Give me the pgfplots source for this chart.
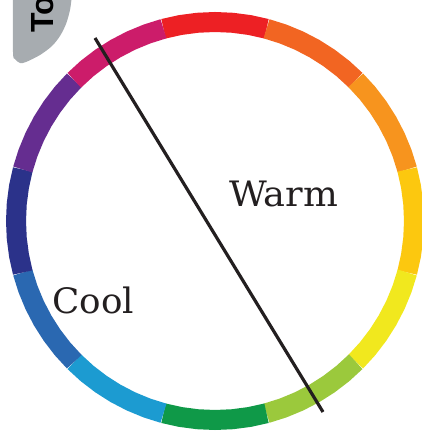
\documentclass[border=0pt]{standalone}
\usepackage{pgfplots}
\pgfplotsset{compat=1.18}
\usepackage{fontspec}
\setmainfont{DejaVu Serif}
\newfontfamily\blobfont{Liberation Sans}
\definecolor{cRed}{HTML}{ED2024}
\definecolor{cRedOrange}{HTML}{F26522}
\definecolor{cOrange}{HTML}{F7941E}
\definecolor{cYellowOrange}{HTML}{FCC80F}
\definecolor{cYellow}{HTML}{F1E81E}
\definecolor{cYellowGreen}{HTML}{9BC93C}
\definecolor{cGreen}{HTML}{0F9948}
\definecolor{cCyan}{HTML}{1C9BD1}
\definecolor{cBlue}{HTML}{2A68B1}
\definecolor{cIndigo}{HTML}{2B328A}
\definecolor{cViolet}{HTML}{652D90}
\definecolor{cMagenta}{HTML}{CC1C6A}
\definecolor{cBlob}{HTML}{A7ACB0}
\definecolor{cLine}{HTML}{231F20}
\begin{document}
\begin{tikzpicture}
\begin{axis}[
  scale only axis, width=422pt, height=431pt,
  xmin=-215, xmax=207, ymin=-210, ymax=221,
  enlargelimits=false, hide axis, clip=true,
]
% grey tab
\addplot[fill=cBlob, draw=none, smooth, tension=0.5] coordinates {
 (-202,226) (-202,169) (-200,162) (-195,158) (-189,159) (-175,166)
 (-163,175) (-155,185) (-149,197) (-145,211) (-143,226)} -- cycle;
\node[rotate=90, anchor=base west, inner sep=0pt, font=\blobfont\bfseries\fontsize{32}{32}\selectfont] at (axis cs:-162,188) {To};
% colour ring: 12 equal segments (angle, radius)
\pgfplotsset{ring/.style={data cs=polar, line width=20pt, line cap=butt, line join=miter, draw=#1}}
\addplot[ring=cRed] coordinates {(75,199) (80,199) (85,199) (90,199) (95,199) (100,199) (105,199)};
\addplot[ring=cRedOrange] coordinates {(45,199) (50,199) (55,199) (60,199) (65,199) (70,199) (75,199)};
\addplot[ring=cOrange] coordinates {(15,199) (20,199) (25,199) (30,199) (35,199) (40,199) (45,199)};
\addplot[ring=cYellowOrange] coordinates {(-15,199) (-10,199) (-5,199) (0,199) (5,199) (10,199) (15,199)};
\addplot[ring=cYellow] coordinates {(-45,199) (-40,199) (-35,199) (-30,199) (-25,199) (-20,199) (-15,199)};
\addplot[ring=cYellowGreen] coordinates {(-75,199) (-70,199) (-65,199) (-60,199) (-55,199) (-50,199) (-45,199)};
\addplot[ring=cGreen] coordinates {(-105,199) (-100,199) (-95,199) (-90,199) (-85,199) (-80,199) (-75,199)};
\addplot[ring=cCyan] coordinates {(-135,199) (-130,199) (-125,199) (-120,199) (-115,199) (-110,199) (-105,199)};
\addplot[ring=cBlue] coordinates {(-165,199) (-160,199) (-155,199) (-150,199) (-145,199) (-140,199) (-135,199)};
\addplot[ring=cIndigo] coordinates {(165,199) (170,199) (175,199) (180,199) (185,199) (190,199) (195,199)};
\addplot[ring=cViolet] coordinates {(135,199) (140,199) (145,199) (150,199) (155,199) (160,199) (165,199)};
\addplot[ring=cMagenta] coordinates {(105,199) (110,199) (115,199) (120,199) (125,199) (130,199) (135,199)};
% dividing line
\addplot[cLine, line width=3.2pt] coordinates {(-120,183) (108,-191)};
\node[anchor=base west, inner sep=0pt, text=cLine, xscale=1.05, font=\fontsize{35}{35}\selectfont] at (axis cs:14,14) {Warm};
\node[anchor=base west, inner sep=0pt, text=cLine, xscale=1.02, font=\fontsize{35}{35}\selectfont] at (axis cs:-163,-93) {Cool};
\end{axis}
\pgfresetboundingbox
\path[use as bounding box] (current axis.south west) rectangle (current axis.north east);
\end{tikzpicture}
\end{document}
